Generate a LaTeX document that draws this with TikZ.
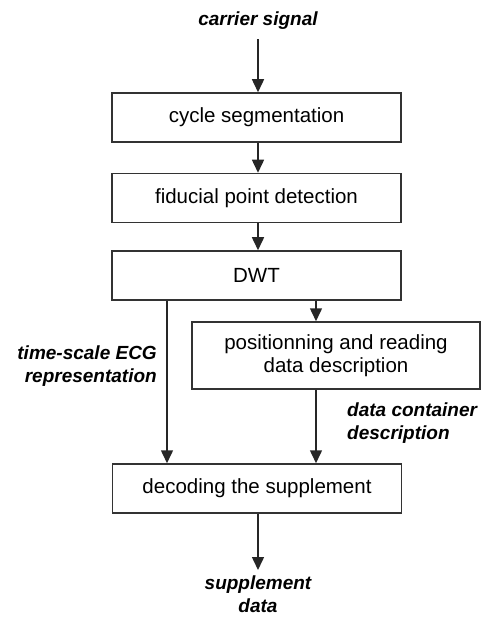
\documentclass[tikz,border=0pt]{standalone}
\usepackage{fontspec}
\setmainfont{Liberation Sans}
\usetikzlibrary{arrows.meta,positioning}

\begin{document}
\begin{tikzpicture}[x=1pt, y=-1pt, every node/.style={align=center}, node distance=30pt]
\tikzset{
  block/.style={draw=black!80, line width=1.5pt, minimum width=289pt, minimum height=49pt, inner sep=0pt, font=\fontsize{20.5}{23}\selectfont},
  io/.style={font=\fontsize{19}{22.5}\selectfont\bfseries\itshape},
  sidenote/.style={io, inner sep=0pt},
  flow/.style={draw=black!85, line width=1.5pt, -{Triangle[length=13pt,width=12pt]}}
}
\useasboundingbox (0,0) rectangle (481,617);
\node[io, anchor=base] (carrier) at (258,26) {carrier signal};
\node[block] (seg) at (256.5,117.5) {cycle segmentation};
\node[block, below=30pt of seg] (fid) {fiducial point detection};
\node[block, below=27pt of fid] (dwt) {DWT};
\node[block, minimum width=288pt, minimum height=67pt] (pos) at (336,355.5) {positionning and reading\\data description};
\node[block] (dec) at (257,488.5) {decoding the supplement};
\node[io, anchor=north, inner sep=6pt] (out) at (258,570) {supplement\\data};
\node[sidenote, anchor=north east, align=right] (ecg) at (157,346) {time-scale ECG\\representation};
\node[sidenote, anchor=north west, align=left] (cont) at (347,403) {data container\\description};
\coordinate (tapL) at (167,0);
\coordinate (tapR) at (316,0);
\draw[flow, shorten <=6pt] (carrier.south) -- (seg.north -| carrier.south);
\draw[flow] (seg.south -| carrier) -- (fid.north -| carrier);
\draw[flow] (fid.south -| carrier) -- (dwt.north -| carrier);
\draw[flow] (dwt.south -| tapR) -- (pos.north -| tapR);
\draw[flow] (dwt.south -| tapL) -- (dec.north -| tapL);
\draw[flow] (pos.south -| tapR) -- (dec.north -| tapR);
\draw[flow] (dec.south -| out) -- (out.north);
\end{tikzpicture}
\end{document}
